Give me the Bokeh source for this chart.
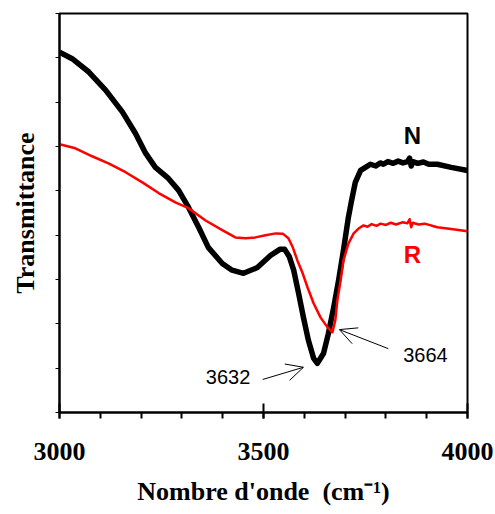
from bokeh.plotting import figure
from bokeh.models import Range1d, FixedTicker, Arrow, OpenHead
from bokeh.core.properties import value
from bokeh.embed import file_html
from bokeh.resources import INLINE

# Sample N (black)
n_wavenumber = [3000, 3031, 3072, 3113, 3154, 3186, 3211, 3235, 3267, 3292, 3316, 3341,
                3365, 3399, 3423, 3451, 3485, 3517, 3540, 3552, 3563, 3574, 3586, 3598, 3610,
                3623, 3632, 3647, 3659, 3672, 3684, 3696, 3708, 3716, 3725, 3738, 3750,
                3762, 3775, 3786, 3794, 3805, 3818, 3830, 3842, 3853, 3858, 3862, 3866,
                3878, 3892, 3905, 3926, 3960, 4000]
n_transmittance = [8.13, 7.98, 7.68, 7.27, 6.78, 6.30, 5.85, 5.53, 5.28, 5.01, 4.63, 4.18,
                   3.72, 3.36, 3.21, 3.14, 3.27, 3.54, 3.68, 3.68, 3.52, 3.21, 2.69, 2.14, 1.63,
                   1.22, 1.11, 1.33, 1.78, 2.37, 2.98, 3.66, 4.40, 4.79, 5.19, 5.46, 5.53,
                   5.60, 5.56, 5.63, 5.60, 5.66, 5.62, 5.67, 5.63, 5.66, 5.74, 5.56, 5.66,
                   5.62, 5.65, 5.60, 5.60, 5.53, 5.46]

# Sample R (red)
r_wavenumber = [3000, 3039, 3080, 3120, 3162, 3203, 3243, 3284, 3316, 3358, 3400, 3431,
                3456, 3480, 3505, 3530, 3548, 3561, 3572, 3583, 3596, 3608, 3623, 3640, 3657,
                3669, 3676, 3681, 3689, 3696, 3708, 3721, 3733, 3745, 3755, 3765, 3777,
                3787, 3800, 3812, 3825, 3840, 3853, 3858, 3862, 3866, 3880, 3895, 3926,
                3960, 4000]
r_transmittance = [6.05, 5.96, 5.78, 5.62, 5.42, 5.19, 4.95, 4.74, 4.61, 4.33, 4.11, 3.95,
                   3.93, 3.95, 4.00, 4.04, 4.03, 3.93, 3.72, 3.43, 3.14, 2.82, 2.46, 2.14, 1.92,
                   1.81, 2.08, 2.53, 2.98, 3.43, 3.81, 4.04, 4.15, 4.22, 4.19, 4.25, 4.21,
                   4.26, 4.23, 4.28, 4.24, 4.29, 4.27, 4.36, 4.18, 4.28, 4.24, 4.26, 4.18,
                   4.14, 4.09]

x_ticks = [3000, 3500, 4000]
x_minor = [3000 + 100 * i for i in range(11)]
y_ticks = list(range(10))

series_labels = ["N", "R"]
series_label_x = [3865, 3865]
series_label_y = [6.25, 3.57]

peak_labels = ["3632", "3664"]
peak_text_x = [3413, 3897]
peak_text_y = [0.80, 1.30]
arrow_start_x = [3498, 3806]
arrow_start_y = [0.745, 1.44]
arrow_end_x = [3598, 3686]
arrow_end_y = [1.02, 1.87]

p = figure(width=495, height=514, output_backend="svg", toolbar_location=None,
           x_range=Range1d(3000, 4000), y_range=Range1d(0, 9),
           min_border_left=59, min_border_right=28, min_border_top=13, min_border_bottom=102)
p.background_fill_color = "white"
p.border_fill_color = "white"
p.outline_line_color = "black"
p.outline_line_width = 2
p.xgrid.visible = False
p.ygrid.visible = False

p.line(n_wavenumber, n_transmittance, line_color="black", line_width=5.5, line_join="round")
p.line(r_wavenumber, r_transmittance, line_color="#ff0000", line_width=2.5, line_join="round")

p.text(x=series_label_x[:1], y=series_label_y[:1], text=series_labels[:1],
       text_font=value("Liberation Sans"), text_font_style="bold", text_font_size="24px",
       text_color="black", text_align="center", text_baseline="middle")
p.text(x=series_label_x[1:], y=series_label_y[1:], text=series_labels[1:],
       text_font=value("Liberation Sans"), text_font_style="bold", text_font_size="24px",
       text_color="#ff0000", text_align="center", text_baseline="middle")
p.text(x=peak_text_x, y=peak_text_y, text=peak_labels,
       text_font=value("Liberation Sans"), text_font_size="20px",
       text_color="black", text_align="center", text_baseline="middle")
for i in range(2):
    p.add_layout(Arrow(end=OpenHead(size=17, line_width=1, line_color="black"),
                       x_start=arrow_start_x[i], y_start=arrow_start_y[i],
                       x_end=arrow_end_x[i], y_end=arrow_end_y[i],
                       line_color="black", line_width=1))

xa = p.xaxis[0]
xa.ticker = FixedTicker(ticks=x_ticks, minor_ticks=x_minor)
xa.axis_line_width = 2
xa.axis_line_color = "black"
xa.major_tick_line_width = 2
xa.minor_tick_line_width = 2
xa.major_tick_line_color = "black"
xa.minor_tick_line_color = "black"
xa.major_tick_in = 9
xa.major_tick_out = 6
xa.minor_tick_in = 0
xa.minor_tick_out = 6
xa.major_label_text_font = "Liberation Serif"
xa.major_label_text_font_style = "bold"
xa.major_label_text_font_size = "26px"
xa.major_label_text_color = "black"
xa.major_label_standoff = 24
xa.axis_label = "Nombre d'onde\u00a0 (cm\u207b\u00b9)"
xa.axis_label_text_font = "Liberation Serif"
xa.axis_label_text_font_style = "bold"
xa.axis_label_text_font_size = "26px"
xa.axis_label_text_color = "black"
xa.axis_label_standoff = 14

ya = p.yaxis[0]
ya.ticker = FixedTicker(ticks=y_ticks, minor_ticks=[])
ya.axis_line_width = 2
ya.axis_line_color = "black"
ya.major_tick_line_color = "black"
ya.major_tick_line_width = 1
ya.major_tick_in = 0
ya.major_tick_out = 4
ya.major_label_overrides = {t: "" for t in y_ticks}
ya.major_label_standoff = 0
ya.axis_label = "Transmittance"
ya.axis_label_text_font = "Liberation Serif"
ya.axis_label_text_font_style = "bold"
ya.axis_label_text_font_size = "26px"
ya.axis_label_text_color = "black"
ya.axis_label_standoff = 16

open("out.html", "w").write(file_html(p, INLINE))
